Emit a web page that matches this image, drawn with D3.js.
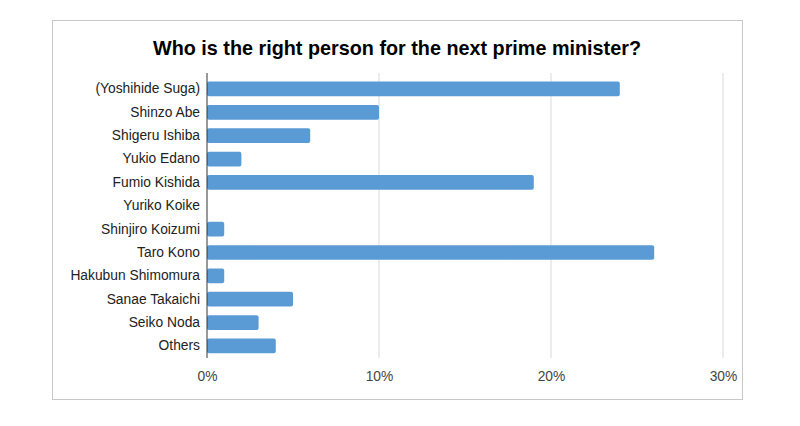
<!DOCTYPE html>
<html>
<head>
<meta charset="utf-8">
<script src="https://cdn.jsdelivr.net/npm/d3@7"></script>
<style>
  body { margin: 0; background: #fff; }
  text { font-family: Arial, "Liberation Sans", sans-serif; }
</style>
</head>
<body>
<svg id="chart"></svg>
<script>
const chartWidth = 800;
const chartHeight = 426;

const TITLE = "Who is the right person for the next prime minister?";

const names = ["(Yoshihide Suga)", "Shinzo Abe", "Shigeru Ishiba", "Yukio Edano", "Fumio Kishida",
  "Yuriko Koike", "Shinjiro Koizumi", "Taro Kono", "Hakubun Shimomura", "Sanae Takaichi",
  "Seiko Noda", "Others"];
const percents = [24, 10, 6, 2, 19, 0, 1, 26, 1, 5, 3, 4];
const xTicks = [0, 10, 20, 30];

const plot = {left: 207, right: 723, top: 73, bottom: 358};
const BAR_COLOR = "#5b9bd5";

let svg = d3.select("#chart")
    .attr("width", chartWidth)
    .attr("height", chartHeight);

// outer frame
svg.append("rect")
    .attr("x", 52.5).attr("y", 20.5)
    .attr("width", 690).attr("height", 379)
    .attr("fill", "#fff")
    .attr("stroke", "#c8c8c8");

svg.append("text")
    .attr("x", 397).attr("y", 55)
    .attr("text-anchor", "middle")
    .attr("font-size", 19.8)
    .attr("font-weight", "bold")
    .attr("fill", "#000")
    .text(TITLE);

let xScale = d3.scaleLinear().domain([0, 30]).range([plot.left, plot.right]);
let yScale = d3.scaleBand().domain(names).range([77.3, 357.6]).paddingInner(0.37).paddingOuter(0.185);

// gridlines
svg.append("g")
    .selectAll("line")
    .data(xTicks.slice(1))
    .join("line")
    .attr("x1", d => xScale(d)).attr("x2", d => xScale(d))
    .attr("y1", plot.top).attr("y2", plot.bottom)
    .attr("stroke", "#d9d9d9")
    .attr("stroke-width", 1);

let xAxis = svg.append("g")
    .attr("transform", `translate(0,${plot.bottom})`)
    .call(d3.axisBottom(xScale).tickValues(xTicks).tickFormat(d => d + "%").tickSize(0).tickPadding(13));
xAxis.select(".domain").remove();
xAxis.selectAll("text")
    .attr("font-size", 13.8)
    .attr("fill", "#444")
    .attr("font-family", "Arial, 'Liberation Sans', sans-serif");

// bars
svg.append("g")
    .selectAll("rect")
    .data(names.map((n, i) => ({name: n, value: percents[i]})).filter(d => d.value > 0))
    .join("rect")
    .attr("x", xScale(0))
    .attr("y", d => yScale(d.name))
    .attr("width", d => xScale(d.value) - xScale(0))
    .attr("height", yScale.bandwidth())
    .attr("rx", 2)
    .attr("fill", BAR_COLOR);

// zero line
svg.append("line")
    .attr("x1", xScale(0)).attr("x2", xScale(0))
    .attr("y1", plot.top).attr("y2", plot.bottom)
    .attr("stroke", "#333")
    .attr("stroke-width", 1);

let yAxis = svg.append("g")
    .attr("transform", `translate(${plot.left},0)`)
    .call(d3.axisLeft(yScale).tickSize(0).tickPadding(7));
yAxis.select(".domain").remove();
yAxis.selectAll("text")
    .attr("font-size", 13.8)
    .attr("fill", "#222")
    .attr("font-family", "Arial, 'Liberation Sans', sans-serif");
</script>
</body>
</html>
